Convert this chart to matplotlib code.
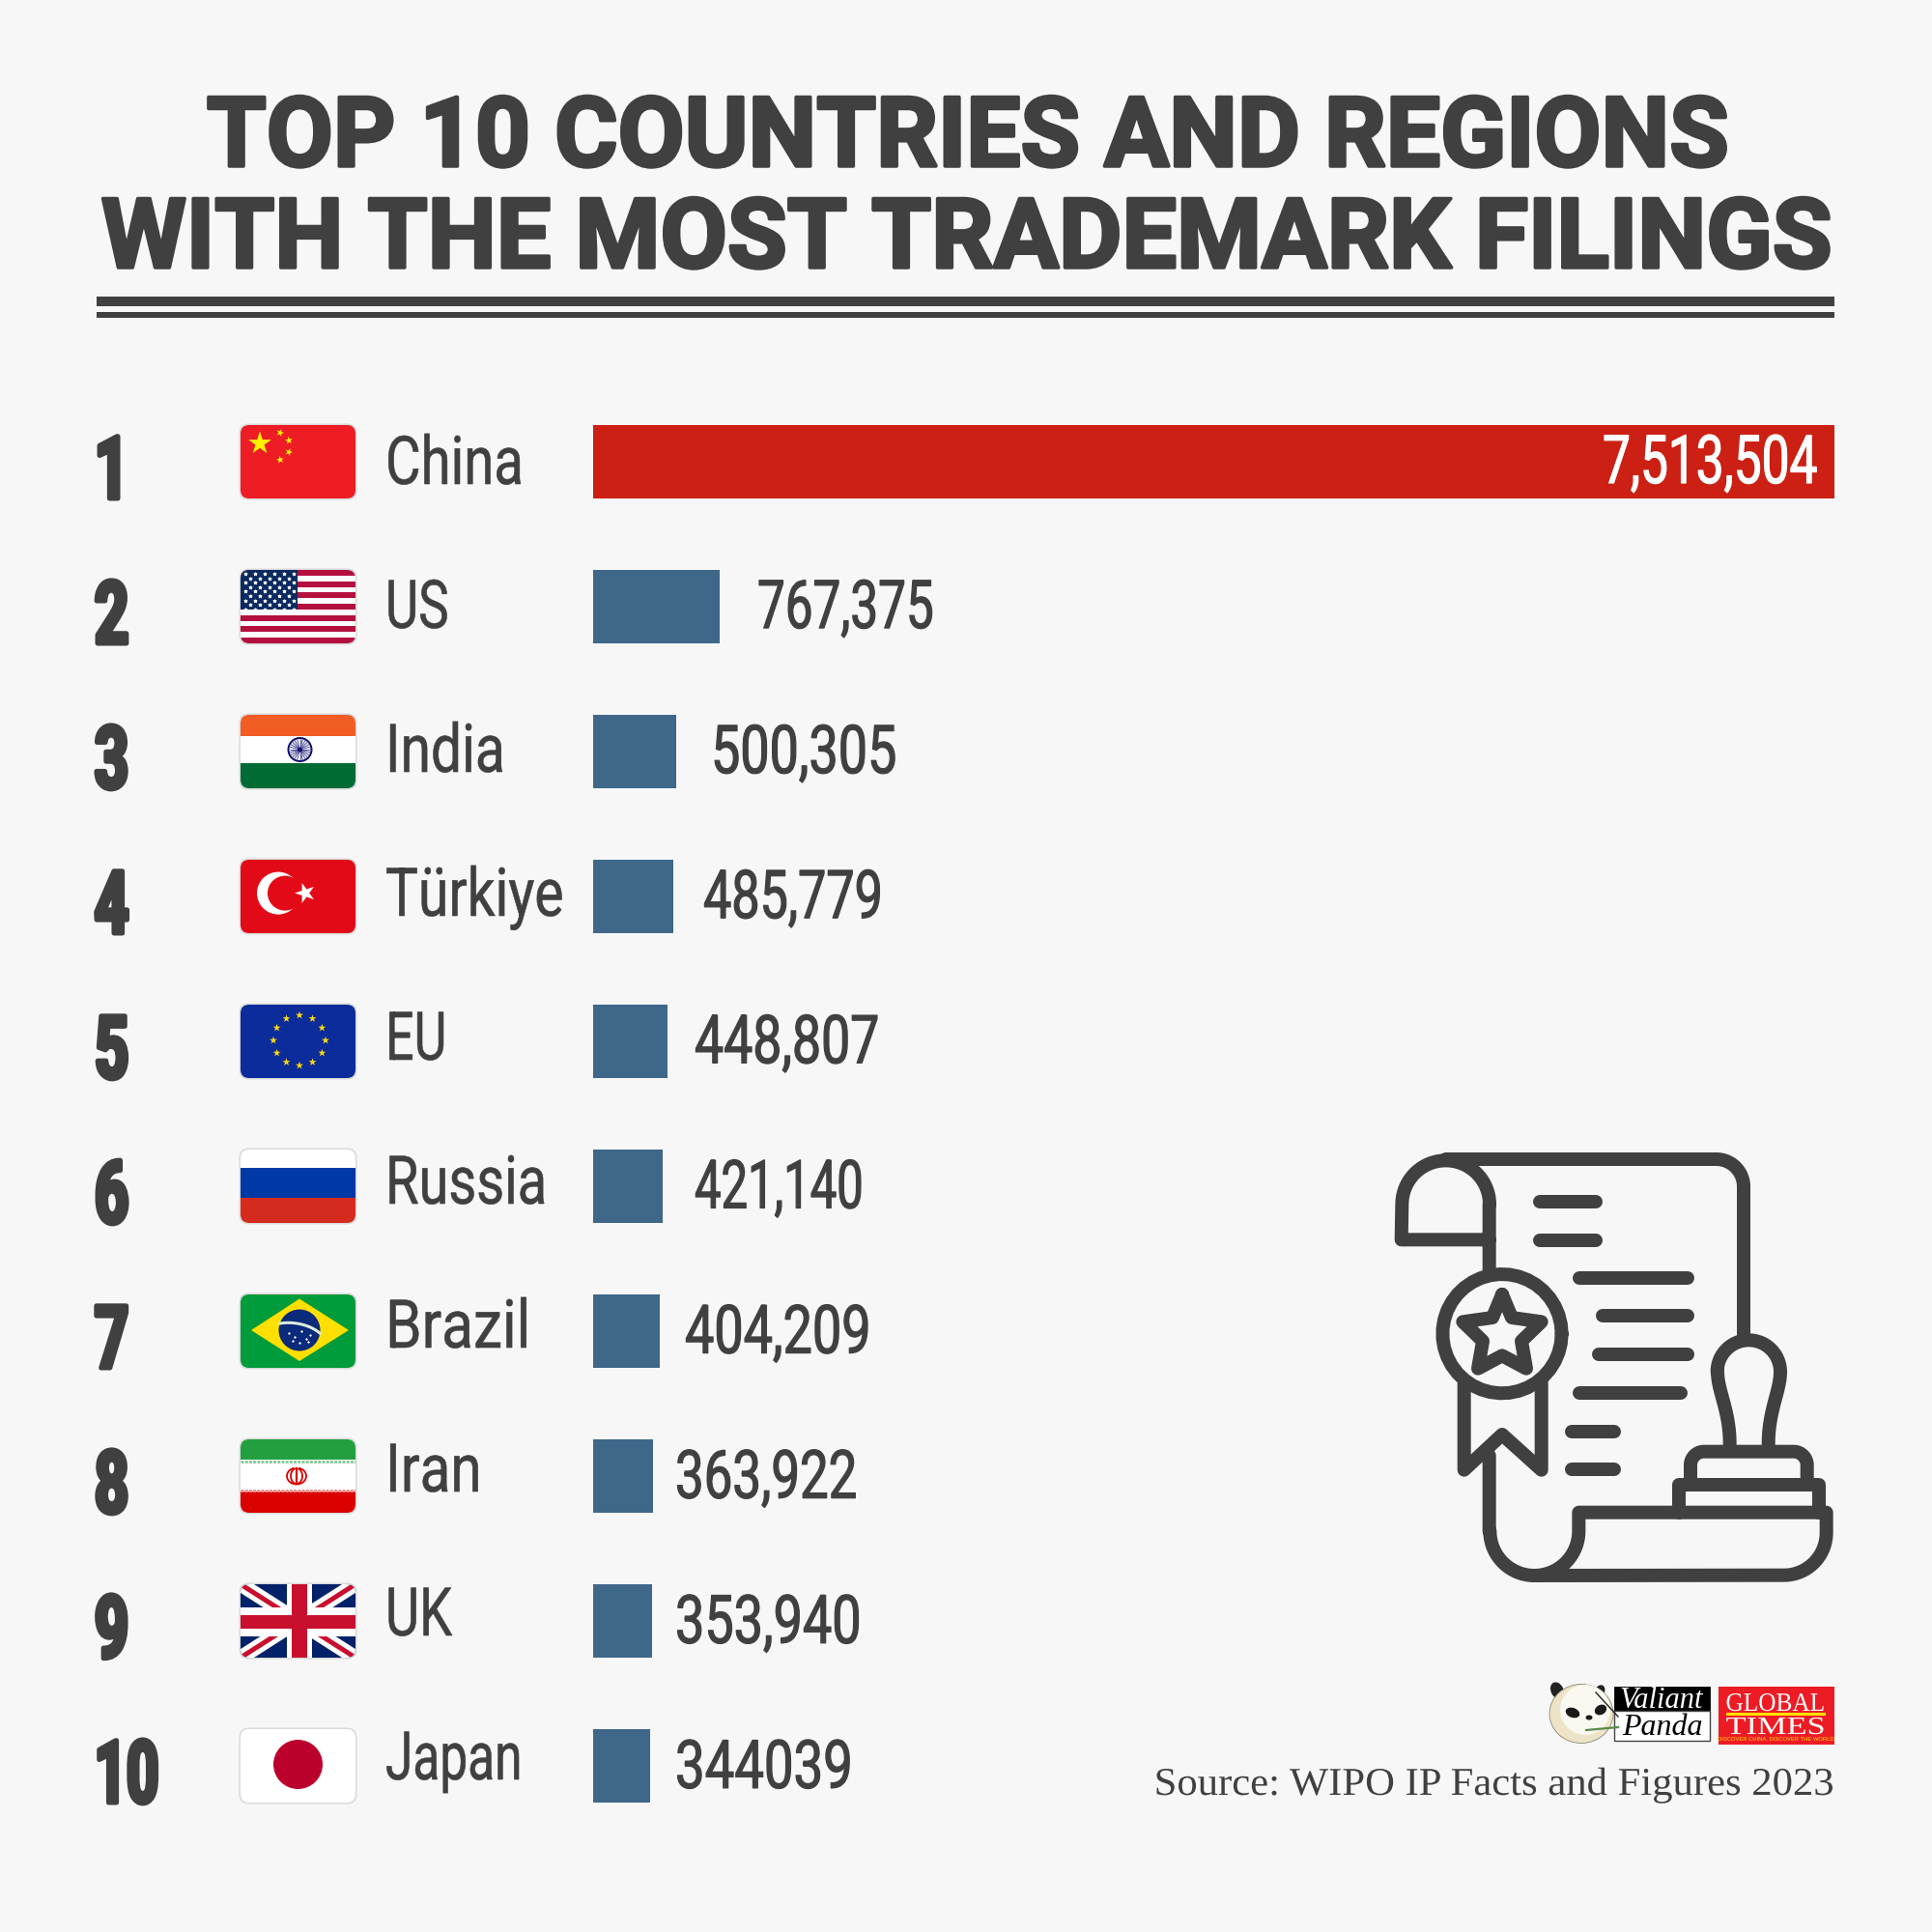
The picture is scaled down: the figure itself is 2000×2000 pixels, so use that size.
import numpy as np
import matplotlib
matplotlib.use('Agg')
import matplotlib.pyplot as plt
import matplotlib.patheffects as pe
from matplotlib.transforms import Affine2D
from matplotlib.patches import FancyBboxPatch, Rectangle, Circle, Polygon, Ellipse

# ==========================================
# data
# ==========================================
ranks = ['1', '2', '3', '4', '5', '6', '7', '8', '9', '10']
countries = ['China', 'US', 'India', 'Türkiye', 'EU', 'Russia', 'Brazil', 'Iran', 'UK', 'Japan']
filings = [7513504, 767375, 500305, 485779, 448807, 421140, 404209, 363922, 353940, 344039]
value_labels = ['7,513,504', '767,375', '500,305', '485,779', '448,807',
                '421,140', '404,209', '363,922', '353,940', '344039']

# label positions are hand placed in the original, not a fixed gap
label_x = [1659, 784, 736, 728, 719, 719, 709, 699, 699, 699]
# no condensed font here, so the text gets narrowed per label to the reference width
name_sx = [0.81, 0.76, 0.82, 0.82, 0.75, 0.806, 0.87, 0.84, 0.78, 0.74]
value_sx = [0.74, 0.737, 0.776, 0.75, 0.772, 0.705, 0.777, 0.76, 0.777, 0.785]

BG = '#F7F7F7'
DARK = '#404040'
RED_BAR = '#CB2013'
BLUE_BAR = '#3F678A'
SANS = ['Roboto', 'DejaVu Sans']
SERIF = ['Liberation Serif', 'DejaVu Serif']

fig = plt.figure(figsize=(10, 10), dpi=200, facecolor=BG)

# bars get their own axes so the length comes from the value scale
ax_bar = fig.add_axes([614 / 2000, 0, 1285 / 2000, 1], zorder=1)
ax_bar.set_xlim(0, filings[0])
ax_bar.set_ylim(2000, 0)
ax_bar.axis('off')

# everything else is drawn in pixels of the 2000x2000 picture
ax = fig.add_axes([0, 0, 1, 1], zorder=2)
ax.set_xlim(0, 2000)
ax.set_ylim(2000, 0)
ax.axis('off')
ax.patch.set_alpha(0)

row_tops = 440 + 150.0 * np.arange(len(countries))
ROW_H = 76
bar_colors = [RED_BAR] + [BLUE_BAR] * (len(countries) - 1)
ax_bar.barh(row_tops + ROW_H / 2, filings, height=ROW_H, color=bar_colors)


def px(n):
    # line width in points for n pixels
    return n * 72 / 200


class Squeeze(pe.AbstractPathEffect):
    """scale text sideways around x0, optionally fatten it with a stroke"""

    def __init__(self, x0, sx, stroke=0, color=DARK):
        super().__init__()
        self.x0, self.sx, self.stroke, self.color = x0, sx, stroke, color

    def draw_path(self, renderer, gc, tpath, affine, rgbFace):
        aff = affine + Affine2D().translate(-self.x0, 0).scale(self.sx, 1).translate(self.x0, 0)
        gc0 = renderer.new_gc()
        gc0.copy_properties(gc)
        if self.stroke:
            gc0.set_linewidth(px(self.stroke))
            gc0.set_foreground(self.color)
        renderer.draw_path(gc0, tpath, aff, rgbFace)
        gc0.restore()


def txt(x, y, s, size, sx=1.0, stroke=0, color=DARK, ha='left', family=SANS, **kw):
    ax.text(x, y, s, ha=ha, va='baseline', fontsize=size, family=family, color=color,
            path_effects=[Squeeze(x, sx, stroke, color)], **kw)


# ==========================================
# title
# ==========================================
txt(1001, 172, 'TOP 10 COUNTRIES AND REGIONS', 36.2, sx=0.995, stroke=3.5, ha='center', fontweight='bold')
txt(1000, 277, 'WITH THE MOST TRADEMARK FILINGS', 36.2, sx=1.0, stroke=3.5, ha='center', fontweight='bold')
ax.add_patch(Rectangle((100, 307), 1799, 10, color=DARK, lw=0))
ax.add_patch(Rectangle((100, 323), 1799, 6, color=DARK, lw=0))


# ==========================================
# flags
# ==========================================
FLAG_X = 249
FLAG_W = 119


def star(cx, cy, r, rot=-90, inner=0.382):
    a = np.radians(rot + np.arange(10) * 36)
    rad = np.where(np.arange(10) % 2 == 0, r, r * inner)
    return np.column_stack([cx + rad * np.cos(a), cy + rad * np.sin(a)])


class Flag:
    def __init__(self, y, color):
        self.x, self.y = FLAG_X, y
        ax.add_patch(FancyBboxPatch((FLAG_X - 1.5, y - 1.5), FLAG_W + 3, ROW_H + 3,
                                    boxstyle='round,pad=0,rounding_size=10',
                                    fc='#DADADA', ec='none', zorder=3))
        self.clip = FancyBboxPatch((FLAG_X, y), FLAG_W, ROW_H,
                                   boxstyle='round,pad=0,rounding_size=9',
                                   fc=color, ec='none', zorder=4)
        ax.add_patch(self.clip)

    def add(self, artist):
        artist.set_zorder(5)
        ax.add_artist(artist)
        artist.set_clip_path(self.clip)
        return artist

    def rect(self, x, y, w, h, c):
        self.add(Rectangle((self.x + x, self.y + y), w, h, fc=c, ec='none'))

    def circle(self, x, y, r, c):
        self.add(Circle((self.x + x, self.y + y), r, fc=c, ec='none'))

    def star(self, x, y, r, c, rot=-90):
        self.add(Polygon(star(self.x + x, self.y + y, r, rot), fc=c, ec='none'))

    def line(self, x0, y0, x1, y1, lw, c):
        self.add(plt.Line2D([self.x + x0, self.x + x1], [self.y + y0, self.y + y1],
                            lw=px(lw), color=c, solid_capstyle='butt'))


def flag_china(y):
    f = Flag(y, '#EE1C25')
    f.star(20, 19, 12.5, '#FFF200')
    for sx, sy, rot in [(41, 8, -70), (50, 16, -100), (50, 28, -70), (41, 36, -100)]:
        f.star(sx, sy, 4.2, '#FFF200', rot)


def flag_us(y):
    f = Flag(y, 'white')
    stripe = ROW_H / 13
    for i in range(0, 13, 2):
        f.rect(0, i * stripe, FLAG_W, stripe, '#B31040')
    f.rect(0, 0, 59, 7 * stripe, '#0B2A60')
    sx, sy = [], []
    for r in range(9):
        cols = 6 if r % 2 == 0 else 5
        off = 5 if r % 2 == 0 else 10
        for c in range(cols):
            sx.append(f.x + off + c * 10)
            sy.append(f.y + 4 + r * 4.6)
    f.add(ax.scatter(sx, sy, s=2.0, marker='*', c='white', linewidths=0.1, edgecolors='white'))


def flag_india(y):
    f = Flag(y, 'white')
    f.rect(0, 0, FLAG_W, 22, '#F15D25')
    f.rect(0, 50, FLAG_W, 26, '#006B35')
    cx, cy = 61.5, 36
    f.circle(cx, cy, 13, '#11116B')
    f.circle(cx, cy, 11, '#F4F4FA')
    for a in np.radians(np.arange(0, 360, 15)):
        f.line(cx, cy, cx + 11 * np.cos(a), cy + 11 * np.sin(a), 0.9, '#4A4A96')
    f.circle(cx, cy, 2.5, '#11116B')


def flag_turkey(y):
    f = Flag(y, '#E30A17')
    f.circle(39, 34.6, 22, 'white')
    f.circle(46, 34.6, 18, '#E30A17')
    f.star(67, 34.5, 11, 'white', rot=180)


def flag_eu(y):
    f = Flag(y, '#0B2C9A')
    for a in np.radians(np.arange(0, 360, 30)):
        f.star(61 + 27 * np.cos(a), 37 + 26 * np.sin(a), 4.2, '#FFD90F')


def flag_russia(y):
    f = Flag(y, 'white')
    f.rect(0, 19, FLAG_W, 31, '#0039A6')
    f.rect(0, 50, FLAG_W, 26, '#D52B1E')


def flag_brazil(y):
    f = Flag(y, '#009B3A')
    d = np.array([[11, 37], [61, 4.5], [112, 37], [61, 69]], dtype=float)
    f.add(Polygon(d + [f.x, f.y], fc='#FEDF00', ec='none'))
    f.circle(61, 37, 21.5, '#0A2A7B')
    band = bez((41, 30), (52, 28), (70, 30), (82, 40))
    f.add(plt.Line2D(f.x + band[:, 0], f.y + band[:, 1], lw=px(3), color='#DDEEDD'))
    f.add(ax.scatter(f.x + np.array([50, 56, 63, 68, 72, 54, 61, 70]),
                     f.y + np.array([40, 44, 38, 46, 42, 48, 50, 49]),
                     s=0.5, c='white', linewidths=0))


def flag_iran(y):
    f = Flag(y, 'white')
    f.rect(0, 0, FLAG_W, 21, '#239F40')
    f.rect(0, 54, FLAG_W, 22, '#DA0000')
    f.add(plt.Line2D([f.x, f.x + FLAG_W], [f.y + 22.5] * 2, lw=px(3), color='#8CCB9C',
                     ls=(0, (1, 0.4))))
    f.add(plt.Line2D([f.x, f.x + FLAG_W], [f.y + 53] * 2, lw=px(3), color='#EE8C8C',
                     ls=(0, (1, 0.4))))
    cx, cy = 58, 38
    t = np.radians(np.linspace(-70, 250, 50))
    for rx, ry in [(10, 8.5), (6, 8)]:
        f.add(plt.Line2D(f.x + cx + rx * np.cos(t), f.y + cy + ry * np.sin(t),
                         lw=px(1.8), color='#DA0000'))
    f.line(cx, cy - 9, cx, cy + 9, 2.2, '#DA0000')


def flag_uk(y):
    f = Flag(y, '#012169')
    for (x0, y0, x1, y1) in [(0, 0, FLAG_W, ROW_H), (0, ROW_H, FLAG_W, 0)]:
        f.line(x0, y0, x1, y1, 15, 'white')
        f.line(x0, y0, x1, y1, 5, '#C8102E')
    f.rect(47.5, 0, 26, ROW_H, 'white')
    f.rect(0, 24, FLAG_W, 30, 'white')
    f.rect(52.5, 0, 16, ROW_H, '#C8102E')
    f.rect(0, 32, FLAG_W, 14, '#C8102E')


def flag_japan(y):
    f = Flag(y, 'white')
    f.circle(59.5, 36.5, 25.5, '#BC002D')


# ==========================================
# certificate icon (1 icon unit = 1/3 pixel)
# ==========================================
def arc(cx, cy, r, a0, a1):
    a = np.radians(np.linspace(a0, a1, 40))
    return np.column_stack([cx + r * np.cos(a), cy + r * np.sin(a)])


def bez(p0, p1, p2, p3):
    t = np.linspace(0, 1, 40)[:, None]
    p0, p1, p2, p3 = map(np.array, (p0, p1, p2, p3))
    return (1 - t) ** 3 * p0 + 3 * (1 - t) ** 2 * t * p1 + 3 * (1 - t) * t ** 2 * p2 + t ** 3 * p3


def stroke(*parts, closed=False):
    pts = np.vstack([np.atleast_2d(p) for p in parts]).astype(float)
    if closed:
        pts = np.vstack([pts, pts[:1]])
    ax.plot(1420 + pts[:, 0] / 3, 1170 + pts[:, 1] / 3, color=DARK, lw=px(14),
            solid_capstyle='round', solid_joinstyle='round', zorder=6)


stroke([230, 90], [1070, 90], arc(1070, 175, 85, -90, 0), [1155, 640])
stroke([365, 440], [365, 230], arc(230, 230, 136, 0, -180), [92, 340], [365, 340])
stroke(arc(405, 632, 185, 0, 360))
stroke([405, 510], [435, 582], [527, 595], [465, 655], [480, 740], [405, 700],
       [330, 740], [345, 655], [283, 595], [375, 582], closed=True)
stroke([287, 785], [287, 1055], [405, 945], [527, 1055], [527, 785])
stroke([365, 1010], [365, 1245], arc(505, 1245, 138, 180, 0), [643, 1187], [1412, 1187],
       [1412, 1250], arc(1280, 1250, 132, 0, 90), [505, 1383])
for x0, x1, yy in [(522, 695, 222), (522, 695, 341), (645, 982, 460), (716, 982, 577),
                   (706, 982, 697), (645, 960, 816), (622, 752, 935), (622, 752, 1054)]:
    stroke([x0, yy], [x1, yy])
stroke(bez((1112, 975), (1112, 870), (1074, 810), (1074, 750)), arc(1171, 750, 98, 180, 360),
       bez((1269, 750), (1269, 810), (1232, 870), (1232, 975)))
stroke([990, 1098], [990, 1040], arc(1032, 1040, 42, 180, 270), arc(1310, 1040, 42, 270, 360),
       [1352, 1098])
stroke([955, 1187], [955, 1100], [1388, 1100], [1388, 1187])

# ==========================================
# rows
# ==========================================
flag_funcs = [flag_china, flag_us, flag_india, flag_turkey, flag_eu,
              flag_russia, flag_brazil, flag_iran, flag_uk, flag_japan]

for i, name in enumerate(countries):
    top = row_tops[i]
    txt(98, top + ROW_H, ranks[i], 32.5, sx=0.64 if i == 9 else 0.68, stroke=5, fontweight='bold')
    flag_funcs[i](top)
    txt(399, 501 + 149 * i, name, 25, sx=name_sx[i], stroke=0.6)
    vc = 'white' if i == 0 else DARK
    txt(label_x[i], 500 + 150.1 * i, value_labels[i], 25, sx=value_sx[i], stroke=1.2, color=vc)

# ==========================================
# logos and source
# ==========================================
ax.add_patch(Ellipse((1612, 1750), 13, 18, angle=-25, fc='#222222', ec='none', zorder=5))
ax.add_patch(Ellipse((1656, 1751), 10, 14, angle=25, fc='#222222', ec='none', zorder=5))
ax.add_patch(Ellipse((1637, 1774), 66, 61, fc='#EDE4C8', ec='#8C8672', lw=0.3, zorder=6))
ax.add_patch(Ellipse((1641, 1770), 52, 52, fc='#FAF8F0', ec='none', zorder=6))
ax.add_patch(Ellipse((1628, 1773), 15, 10, angle=20, fc='#1A1A1A', ec='none', zorder=7))
ax.add_patch(Ellipse((1657, 1770), 13, 10, angle=-30, fc='#1A1A1A', ec='none', zorder=7))
ax.add_patch(Ellipse((1645, 1778), 7, 5, fc='#1A1A1A', ec='none', zorder=7))
ax.plot([1642, 1675], [1791, 1788], color='#5C8A4A', lw=0.8, zorder=8)
ax.plot([1652, 1675], [1752, 1777], color='#222222', lw=0.5, zorder=8)

ax.add_patch(Rectangle((1671, 1746), 99, 25, fc='black', ec='black', lw=0.3, zorder=6))
ax.add_patch(Rectangle((1671, 1771), 99, 31, fc='white', ec='#444444', lw=0.5, zorder=6))
ax.text(1720, 1768, 'Valiant', ha='center', va='baseline', fontsize=11, style='italic',
        family=SERIF, color='white', zorder=7)
ax.text(1721, 1796, 'Panda', ha='center', va='baseline', fontsize=11.5, style='italic',
        family=SERIF, color='black', zorder=7)

ax.add_patch(Rectangle((1779, 1746), 120, 60, fc='#ED1C24', ec='none', zorder=6))
ax.add_patch(Rectangle((1787, 1773), 103, 3, fc='#FFE100', ec='none', zorder=7))
ax.text(1838, 1771, 'GLOBAL', ha='center', va='baseline', fontsize=9.8, family=SERIF,
        color='white', zorder=7, path_effects=[Squeeze(1838, 0.93, 0, 'white')])
ax.text(1838, 1795, 'TIMES', ha='center', va='baseline', fontsize=9.3, family=SERIF,
        color='white', zorder=7, path_effects=[Squeeze(1838, 1.33, 0, 'white')])
ax.text(1838, 1801, 'DISCOVER CHINA, DISCOVER THE WORLD', ha='center', va='baseline',
        fontsize=2.1, family=['Liberation Sans'], color='#FFE100', zorder=7)

txt(1897, 1858, 'Source: WIPO IP Facts and Figures 2023', 14.7, sx=1.045, ha='right', family=SERIF)

fig.savefig('out.png', dpi=200, facecolor=BG)
